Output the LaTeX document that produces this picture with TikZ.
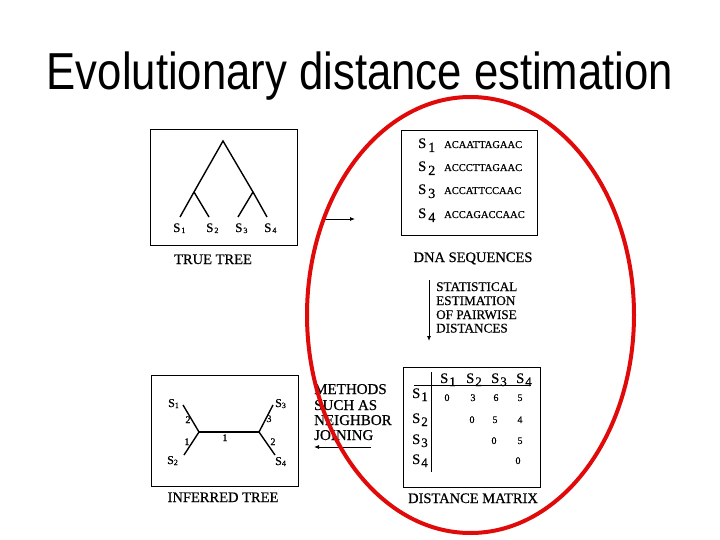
\documentclass[tikz,border=0pt]{standalone}
\usepackage{fontspec}
\setmainfont{Liberation Serif}[RawFeature={embolden=0.6}]
\newfontfamily\titlefont{Liberation Sans}
\usetikzlibrary{arrows.meta}
\definecolor{ringred}{RGB}{225,10,10}
\newcommand\sseq[1]{{\fontsize{14.5}{14.5}\selectfont S}\kern2pt\raisebox{-4pt}{\fontsize{14}{14}\selectfont #1}}
\newcommand\smat[1]{{\fontsize{14.5}{14.5}\selectfont S}\kern1pt\raisebox{-3pt}{\fontsize{13}{13}\selectfont #1}}
\newcommand\stree[1]{{\fontsize{13}{13}\selectfont S}\kern1pt\raisebox{-1pt}{\fontsize{8}{8}\selectfont #1}}
\newcommand\sinf[1]{{\fontsize{12}{12}\selectfont S}\raisebox{-1pt}{\fontsize{8}{8}\selectfont #1}}
\tikzset{
  panel/.style={draw, line width=1pt},
  branch/.style={line width=1.4pt},
  caption/.style={anchor=base, inner sep=0pt, font=\fontsize{14.5}{14.5}\selectfont},
  note/.style={anchor=base west, inner sep=0pt},
  lbl/.style={anchor=base west, inner sep=0pt},
  num/.style={anchor=base, inner sep=0pt, font=\fontsize{10}{10}\selectfont},
  seq/.style={anchor=base west, inner sep=0pt, font=\fontsize{10.5}{10.5}\selectfont},
  arr/.style={line width=0.8pt, -{Latex[length=5pt,width=4pt]}},
}
\begin{document}
\begin{tikzpicture}[x=1pt,y=-1pt]
\useasboundingbox (0,0) rectangle (720,540);
% title
\node[anchor=base, inner sep=0pt] (title) at (360,90)
  {\scalebox{0.84}[1]{\titlefont\fontsize{52}{52}\selectfont Evolutionary distance estimation}};

% ---------- true tree ----------
\draw[panel] (150,130) rectangle (297,245);
\coordinate (tr) at (223,141);
\coordinate (tl) at (194,192);
\coordinate (tq) at (253,192);
\coordinate (t1) at (180,217);
\coordinate (t2) at (209,217);
\coordinate (t3) at (238,217);
\coordinate (t4) at (267,217);
\draw[branch] (t1) -- (tl) -- (tr) -- (tq) -- (t4);
\draw[branch] (tl) -- (t2);
\draw[branch] (tq) -- (t3);
\node[lbl] (ts1) at (173,232) {\stree{1}};
\node[lbl] (ts2) at (206,232) {\stree{2}};
\node[lbl] (ts3) at (235,232) {\stree{3}};
\node[lbl] (ts4) at (264,232) {\stree{4}};
\node[caption] (truecap) at (213,264) {TRUE TREE};

% arrow true tree -> DNA
\coordinate (a1s) at (323,219);
\coordinate (a1e) at (355,219);
\draw[arr] (a1s) -- (a1e);

% ---------- DNA sequences ----------
\draw[panel] (401,131) rectangle (537,235);
\node[lbl] (d1) at (418,148) {\sseq{1}};
\node[lbl] (d2) at (418,171) {\sseq{2}};
\node[lbl] (d3) at (418,194) {\sseq{3}};
\node[lbl] (d4) at (418,218) {\sseq{4}};
\node[seq] (q1) at (444,148) {ACAATTAGAAC};
\node[seq] (q2) at (444,171) {ACCCTTAGAAC};
\node[seq] (q3) at (444,194) {ACCATTCCAAC};
\node[seq] (q4) at (444,218) {ACCAGACCAAC};
\node[caption] (dnacap) at (473,262) {DNA SEQUENCES};

% vertical arrow
\coordinate (a2s) at (429,280);
\coordinate (a2e) at (429,341);
\draw[arr] (a2s) -- (a2e);
\begin{scope}[every node/.style={note, font=\fontsize{13.2}{13.2}\selectfont}]
\node (st1) at (436,291) {STATISTICAL};
\node (st2) at (436,305) {ESTIMATION};
\node (st3) at (436,319) {OF PAIRWISE};
\node (st4) at (436,332.5) {DISTANCES};
\end{scope}

% ---------- distance matrix ----------
\draw[panel] (403,367) rectangle (540,487);
\coordinate (hl) at (414,385);
\coordinate (hr) at (531,385);
\coordinate (vt) at (431,372);
\coordinate (vb) at (431,472);
\draw[line width=1pt] (hl) -- (hr);
\draw[line width=1pt] (vt) -- (vb);
\node[lbl] (c1) at (440,383) {\smat{1}};
\node[lbl] (c2) at (466,383) {\smat{2}};
\node[lbl] (c3) at (491,383) {\smat{3}};
\node[lbl] (c4) at (516,383) {\smat{4}};
\node[lbl] (r1) at (412,398) {\smat{1}};
\node[lbl] (r2) at (412,423) {\smat{2}};
\node[lbl] (r3) at (412,444) {\smat{3}};
\node[lbl] (r4) at (412,464) {\smat{4}};
\node[num] (m11) at (447,401) {0};
\node[num] (m12) at (473,401) {3};
\node[num] (m13) at (496,401) {6};
\node[num] (m14) at (520,401) {5};
\node[num] (m22) at (472,423) {0};
\node[num] (m23) at (495,423) {5};
\node[num] (m24) at (520,423) {4};
\node[num] (m33) at (494,444) {0};
\node[num] (m34) at (520,444) {5};
\node[num] (m44) at (518,464) {0};
\node[caption] (matcap) at (473,503) {DISTANCE MATRIX};

% methods text and arrow
\begin{scope}[every node/.style={note, font=\fontsize{15}{15}\selectfont}]
\node (me1) at (314,394) {METHODS};
\node (me2) at (314,410) {SUCH AS};
\node (me3) at (314,425) {NEIGHBOR};
\node (me4) at (314,440) {JOINING};
\end{scope}
\coordinate (a3s) at (371,447);
\coordinate (a3e) at (314,447);
\draw[arr] (a3s) -- (a3e);

% ---------- inferred tree ----------
\draw[panel] (151,375) rectangle (298,486);
\coordinate (il) at (199,432);
\coordinate (ir) at (259,432);
\coordinate (i1) at (183,405);
\coordinate (i2) at (184,455);
\coordinate (i3) at (273,405);
\coordinate (i4) at (275,455);
\draw[branch] (i1) -- (il) -- (i2);
\draw[branch] (il) -- (ir);
\draw[branch] (i3) -- (ir) -- (i4);
\node[lbl] (is1) at (168,407) {\sinf{1}};
\node[lbl] (is2) at (167,464) {\sinf{2}};
\node[lbl] (is3) at (275,407) {\sinf{3}};
\node[lbl] (is4) at (275,465) {\sinf{4}};
\node[num] (e1) at (188,423) {2};
\node[num] (e2) at (187,445) {1};
\node[num] (e3) at (225,441) {1};
\node[num] (e4) at (269,422) {3};
\node[num] (e5) at (273,445) {2};
\node[caption] (infcap) at (223,502) {INFERRED TREE};

% red ellipse
\draw[ringred, line width=4pt] (470.5,315) ellipse [x radius=163.5, y radius=218];
\end{tikzpicture}
\end{document}
